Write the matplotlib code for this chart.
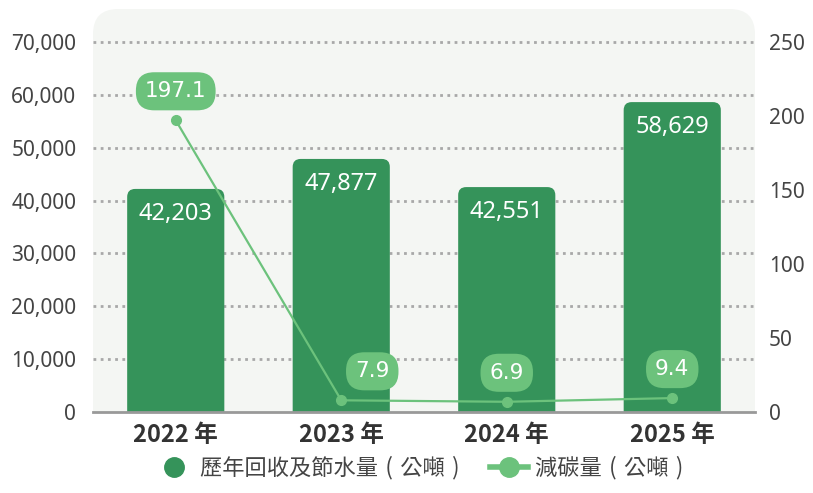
import numpy as np
import matplotlib
matplotlib.use('Agg')
import matplotlib.pyplot as plt
from matplotlib.patches import FancyBboxPatch
from matplotlib.lines import Line2D
from matplotlib.ticker import FuncFormatter

plt.rcParams['font.family'] = ['Noto Sans', 'Noto Sans CJK TC', 'DejaVu Sans']

# data
years = ['2022 年', '2023 年', '2024 年', '2025 年']
water = [42203, 47877, 42551, 58629]          # 歷年回收及節水量 (公噸)
carbon = [197.1, 7.9, 6.9, 9.4]               # 減碳量 (公噸)
label_shift = [0, 31, 0, 0]                   # px shift of the 減碳 labels
sp = '\u2004'
legend_labels = [f'歷年回收及節水量{sp}({sp}公噸{sp})', f'減碳量{sp}({sp}公噸{sp})']

bar_color = '#35935a'
line_color = '#6cc27c'
bg_color = '#f4f6f3'

W, H = 813, 493
fig = plt.figure(figsize=(W / 100, H / 100), dpi=100)
ax = fig.add_axes([93 / W, 1 - 412 / H, (755 - 93) / W, (412 - 9) / H])
ax.set_facecolor('none')

x = np.arange(len(years))
ymax = 70000 * (412 - 9) / (412 - 42)
ax.set_xlim(-0.5, 3.5)
ax.set_ylim(0, ymax)

# rounded background
bg = FancyBboxPatch((0, -0.2), 1, 1.2, transform=ax.transAxes,
                    boxstyle='round,pad=0,rounding_size=0.038',
                    mutation_aspect=662 / 403,
                    facecolor=bg_color, edgecolor='none', zorder=0, clip_on=True)
ax.add_patch(bg)
bg.set_clip_path(ax.patch)

# grid
for t in range(10000, 70001, 10000):
    ax.axhline(t, color='#a8a8a8', lw=2, ls=(0, (1, 1.6)), zorder=1)

# bars with rounded tops
bw = 0.587
px_x = 4 / 662
px_y = ymax / 403
aspect = px_y / px_x
bars = ax.bar(x, water, width=bw, color='none')
for b, v in zip(bars, water):
    r = 8 * px_x
    p = FancyBboxPatch((b.get_x(), -20 * px_y), b.get_width(), v + 20 * px_y,
                       boxstyle=f'round,pad=0,rounding_size={r}',
                       mutation_aspect=aspect,
                       facecolor=bar_color, edgecolor='none', zorder=2)
    ax.add_patch(p)
    p.set_clip_path(ax.patch)
    ax.text(b.get_x() + b.get_width() / 2, v - 25 * px_y, f'{v:,}',
            ha='center', va='center', color='white', fontsize=17, zorder=5)

ax.spines[['top', 'left', 'right']].set_visible(False)
ax.spines['bottom'].set_color('#999999')
ax.spines['bottom'].set_linewidth(2)
ax.spines['bottom'].set_zorder(6)

ax.set_yticks(range(0, 70001, 10000))
ax.yaxis.set_major_formatter(FuncFormatter(lambda v, p: f'{int(v):,}'))
ax.tick_params(axis='y', length=0, pad=12, labelsize=15, labelcolor='#444444')
ax.set_xticks(x)
ax.set_xticklabels(years, fontsize=17, fontweight='bold', color='#333333',
                   family=['Noto Sans CJK TC'])
ax.tick_params(axis='x', length=0, pad=8)

# line on right axis
ax2 = ax.twinx()
ax2.set_ylim(0, 250 * (412 - 9) / (412 - 42))
ax2.set_yticks(range(0, 251, 50))
ax2.tick_params(axis='y', length=0, pad=10, labelsize=15, labelcolor='#444444')
for s in ax2.spines.values():
    s.set_visible(False)
ax2.plot(x, carbon, color=line_color, lw=1.6, marker='o', ms=7, zorder=3)
for xi, v, dx in zip(x, carbon, label_shift):
    ax2.annotate(f'{v}', (xi, v), xytext=(dx * 0.72, 29 * 0.72), textcoords='offset points',
                 ha='center', va='center', color='white', fontsize=15.5,
                 family='DejaVu Sans',
                 bbox=dict(boxstyle='round,pad=0.42,rounding_size=0.85',
                           fc=line_color, ec='none'), zorder=7)

# legend
handles = [Line2D([], [], ls='none', marker='o', ms=14, color=bar_color),
           Line2D([], [], color=line_color, lw=4, marker='o', ms=14)]
fig.legend(handles, legend_labels,
           loc='center', bbox_to_anchor=(419 / W, 1 - 468 / H), ncol=2,
           frameon=False, handlelength=1.7, handletextpad=0.3, columnspacing=1.4,
           prop={'family': ['Noto Sans CJK TC', 'DejaVu Sans'], 'size': 16},
           labelcolor='#444444')

fig.savefig('out.png', dpi=100)
